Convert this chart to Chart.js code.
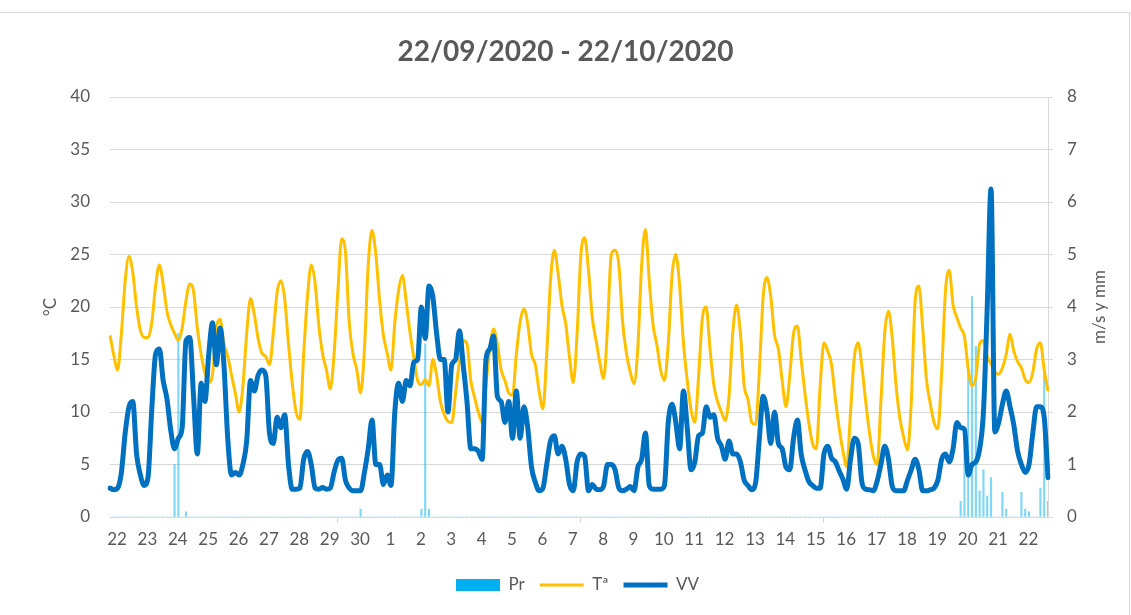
<!DOCTYPE html>
<html>
<head>
<meta charset="utf-8">
<title>22/09/2020 - 22/10/2020</title>
<script src="https://cdn.jsdelivr.net/npm/chart.js@4.4.0/dist/chart.umd.min.js"></script>
<style>
    html, body { margin: 0; padding: 0; background: #ffffff; }
    #wrap { width: 1131px; height: 615px; }
</style>
</head>
<body>
<div id="wrap"><canvas id="grafico" width="1131" height="615"></canvas></div>
<script>
// dias del eje x, del 22/09 al 22/10
var dias = ['22', '23', '24', '25', '26', '27', '28', '29', '30', '1', '2', '3', '4', '5', '6', '7',
    '8', '9', '10', '11', '12', '13', '14', '15', '16', '17', '18', '19', '20', '21', '22'];
// lecturas por dia (cada 3 horas)
var lecturasDia = 8;

// Tª (°C), una fila por dia
var temperatura = [
    17.3, 15.4, 14.0, 17.5, 22.5, 24.8, 23.3, 20.0,
    17.8, 17.1, 17.1, 18.5, 22.0, 24.0, 22.2, 19.6,
    18.3, 17.5, 16.8, 18.0, 20.6, 22.2, 21.5, 18.0,
    15.5, 13.7, 12.8, 13.6, 18.0, 18.8, 16.5, 15.3,
    13.5, 11.8, 10.0, 12.5, 17.5, 20.8, 19.3, 17.0,
    15.6, 15.3, 14.5, 17.5, 21.4, 22.5, 20.8, 16.5,
    12.7, 10.0, 9.3, 15.5, 21.0, 24.0, 22.3, 18.2,
    15.5, 14.0, 12.2, 15.5, 21.5, 26.5, 25.2, 18.5,
    15.5, 14.0, 11.8, 16.0, 24.0, 27.3, 25.0, 20.6,
    17.3, 15.6, 14.0, 18.5, 21.6, 23.0, 20.5, 17.6,
    15.2, 13.0, 12.6, 13.1, 12.5, 15.0, 13.5, 11.0,
    9.8, 9.1, 9.0, 11.8, 14.8, 16.8, 16.5, 13.0,
    11.4, 10.0, 9.0, 12.5, 16.0, 17.9, 16.5, 14.0,
    13.0, 11.8, 11.6, 15.5, 18.6, 19.8, 18.4, 15.5,
    14.5, 12.0, 10.3, 15.5, 22.5, 25.4, 23.2, 20.2,
    18.4, 15.2, 12.8, 17.5, 25.0, 26.6, 23.5, 19.0,
    16.8, 14.7, 13.2, 18.0, 25.0, 25.4, 24.0, 18.5,
    15.6, 13.8, 12.7, 16.2, 24.0, 27.4, 22.5, 18.3,
    16.4, 14.0, 13.0, 16.5, 23.0, 25.0, 22.0, 16.6,
    13.0, 10.2, 9.0, 13.5, 19.0, 20.0, 16.0, 12.6,
    11.0, 10.0, 9.2, 11.5, 17.6, 20.2, 17.5, 12.5,
    11.2, 9.0, 8.8, 14.0, 21.0, 22.8, 21.0, 17.3,
    16.0, 13.0, 10.5, 13.5, 17.5, 18.2, 15.0, 11.8,
    9.0, 7.0, 6.5, 12.5, 16.6, 15.8, 14.5, 11.3,
    8.5, 6.3, 4.8, 10.0, 15.2, 16.6, 14.3, 11.0,
    8.0, 5.8, 5.0, 11.0, 17.5, 19.6, 17.0, 12.5,
    9.4, 7.6, 6.4, 11.0, 20.5, 22.0, 18.0, 13.1,
    10.8, 9.0, 8.4, 13.8, 21.5, 23.5, 20.2, 19.0,
    18.0, 17.2, 14.1, 12.5, 13.3, 16.5, 16.8, 15.3,
    14.6, 13.8, 13.6, 14.2, 15.5, 17.4, 15.8, 14.8,
    14.2, 13.1, 12.8, 13.8, 16.0, 16.6, 14.0, 12.0
];

// VV (m/s)
var viento = [
    0.55, 0.52, 0.55, 0.85, 1.6, 2.1, 2.2, 1.2,
    0.8, 0.6, 0.75, 2.05, 3.1, 3.2, 2.6, 2.25,
    1.65, 1.3, 1.5, 1.7, 3.35, 3.42, 2.3, 1.2,
    2.55, 2.2, 3.1, 3.7, 2.9, 3.6, 2.9, 1.5,
    0.8, 0.85, 0.8, 1.0, 1.45, 2.6, 2.4, 2.7,
    2.8, 2.7, 1.6, 1.4, 1.9, 1.7, 1.95, 1.0,
    0.53, 0.53, 0.55, 1.1, 1.25, 1.0, 0.55, 0.53,
    0.56, 0.53, 0.55, 0.85, 1.08, 1.12, 0.7, 0.55,
    0.5, 0.5, 0.5, 0.85, 1.3, 1.85, 1.0, 1.0,
    0.62, 0.8, 0.6, 2.0, 2.55, 2.2, 2.6, 2.5,
    2.95, 3.0, 4.0, 3.4, 4.4, 4.2, 3.5, 3.0,
    3.0, 2.0, 2.9, 3.0, 3.55, 2.9, 2.2, 1.3,
    1.3, 1.25, 1.1, 3.0, 3.2, 3.45, 2.3, 2.2,
    1.8, 2.2, 1.5, 2.4, 1.5, 2.1, 1.7, 0.95,
    0.66, 0.5, 0.55, 1.0, 1.45, 1.55, 1.2, 1.35,
    1.1, 0.62, 0.5, 1.05, 1.2, 1.15, 0.5, 0.62,
    0.53, 0.52, 0.6, 1.0, 1.0, 0.9, 0.55, 0.5,
    0.53, 0.58, 0.5, 0.95, 1.1, 1.6, 0.6, 0.53,
    0.53, 0.53, 0.6, 1.8, 2.15, 1.8, 1.3, 2.4,
    1.7, 0.9, 1.05, 1.55, 1.6, 2.1, 1.9, 1.95,
    1.5, 1.35, 1.1, 1.45, 1.2, 1.2, 1.05, 0.7,
    0.6, 0.52, 0.65, 1.5, 2.3, 2.0, 1.4, 2.0,
    1.4, 1.3, 0.95, 0.9, 1.5, 1.85, 1.2, 0.9,
    0.68, 0.6, 0.55, 0.55, 1.2, 1.35, 1.12, 1.05,
    0.88, 0.72, 0.53, 1.1, 1.5, 1.4, 0.66, 0.53,
    0.52, 0.5, 0.68, 1.0, 1.35, 1.1, 0.58, 0.5,
    0.5, 0.5, 0.7, 0.9, 1.1, 0.9, 0.5, 0.5,
    0.52, 0.55, 0.7, 1.1, 1.2, 1.05, 1.3, 1.8,
    1.7, 1.67, 0.8, 1.0, 1.05, 1.3, 2.0, 4.0,
    6.25, 1.62, 1.8, 2.15, 2.4, 2.1, 1.75, 1.25,
    1.0, 0.85, 1.0, 1.6, 2.1, 2.1, 1.9, 0.75
];

// Pr (mm)
var precipitacion = [
    0, 0, 0, 0, 0, 0, 0, 0,
    0, 0, 0, 0, 0, 0, 0, 0,
    0, 1.0, 3.5, 0, 0.1, 0, 0, 0,
    0, 0, 0, 0, 0, 0, 0, 0,
    0, 0, 0, 0, 0, 0, 0, 0,
    0, 0, 0, 0, 0, 0, 0, 0,
    0, 0, 0, 0, 0, 0, 0, 0,
    0, 0, 0, 0, 0, 0, 0, 0,
    0, 0, 0.15, 0, 0, 0, 0, 0,
    0, 0, 0, 0, 0, 0, 0, 0,
    0, 0, 0.15, 3.3, 0.15, 0, 0, 0,
    0, 0, 0, 0, 0, 0, 0, 0,
    0, 0, 0, 0, 0, 0, 0, 0,
    0, 0, 0, 0, 0, 0, 0, 0,
    0, 0, 0, 0, 0, 0, 0, 0,
    0, 0, 0, 0, 0, 0, 0, 0,
    0, 0, 0, 0, 0, 0, 0, 0,
    0, 0, 0, 0, 0, 0, 0, 0,
    0, 0, 0, 0, 0, 0, 0, 0,
    0, 0, 0, 0, 0, 0, 0, 0,
    0, 0, 0, 0, 0, 0, 0, 0,
    0, 0, 0, 0, 0, 0, 0, 0,
    0, 0, 0, 0, 0, 0, 0, 0,
    0, 0, 0, 0, 0, 0, 0, 0,
    0, 0, 0, 0, 0, 0, 0, 0,
    0, 0, 0, 0, 0, 0, 0, 0,
    0, 0, 0, 0, 0, 0, 0, 0,
    0, 0, 0, 0, 0, 0, 0, 0,
    0.3, 1.4, 2.75, 4.2, 3.25, 0.5, 0.9, 0.4,
    0.75, 0, 0, 0.47, 0.15, 0, 0, 0,
    0.47, 0.15, 0.1, 0, 0, 0.55, 2.9, 0.3
];

var gris = '#595959';
var rejilla = '#d9d9d9';
var fuente = 'Lato, "Open Sans", sans-serif';

// una etiqueta por lectura: el dia en la primera lectura, vacia en el resto
var etiquetas = [];
dias.forEach(function (d) {
    for (var h = 0; h < lecturasDia; h++) {
        etiquetas.push(h === 0 ? d : '');
    }
});

// marco del grafico, leyenda centrada sobre el area de trazado
// y titulo del eje derecho (girado como en Excel)
var extras = {
    id: 'extras',
    afterLayout: function (chart) {
        if (chart.legend) {
            chart.legend.left += 12;
            chart.legend.right += 12;
        }
    },
    afterDraw: function (chart) {
        var ctx = chart.ctx;
        var area = chart.chartArea;
        ctx.save();
        ctx.strokeStyle = rejilla;
        ctx.lineWidth = 1;
        ctx.beginPath();
        ctx.moveTo(0, 12.5);
        ctx.lineTo(1129.5, 12.5);
        ctx.lineTo(1129.5, 615);
        ctx.stroke();

        ctx.translate(1100, (area.top + area.bottom) / 2);
        ctx.rotate(-Math.PI / 2);
        ctx.fillStyle = gris;
        ctx.font = '17px ' + fuente;
        ctx.textAlign = 'center';
        ctx.textBaseline = 'middle';
        ctx.fillText('m/s y mm', 0, 0);
        ctx.restore();
    }
};

new Chart(document.getElementById('grafico'), {
    type: 'bar',
    data: {
        labels: etiquetas,
        datasets: [{
            type: 'bar',
            label: 'Pr',
            data: precipitacion,
            yAxisID: 'y1',
            backgroundColor: 'rgba(0, 176, 240, 0.5)',
            barThickness: 1.5,
            order: 3
        }, {
            type: 'line',
            label: 'Tª',
            data: temperatura,
            yAxisID: 'y',
            borderColor: '#FFC000',
            backgroundColor: '#FFC000',
            borderWidth: 3,
            pointRadius: 0,
            cubicInterpolationMode: 'monotone',
            order: 2
        }, {
            type: 'line',
            label: 'VV',
            data: viento,
            yAxisID: 'y1',
            borderColor: '#0070C0',
            backgroundColor: '#0070C0',
            borderWidth: 5,
            borderJoinStyle: 'round',
            borderCapStyle: 'round',
            pointRadius: 0,
            cubicInterpolationMode: 'monotone',
            order: 1
        }]
    },
    options: {
        responsive: false,
        animation: false,
        layout: { padding: { top: 1.4, bottom: 11.5, left: 0, right: 0 } },
        scales: {
            x: {
                offset: false,
                grid: {
                    drawOnChartArea: false,
                    drawTicks: true,
                    tickLength: 6,
                    color: function (c) { return c.index % lecturasDia === 0 ? rejilla : 'rgba(0,0,0,0)'; }
                },
                border: { display: true, color: rejilla },
                ticks: {
                    autoSkip: false,
                    maxRotation: 0,
                    minRotation: 0,
                    labelOffset: 7,
                    padding: 6,
                    color: gris,
                    font: { family: fuente, size: 17 },
                    callback: function (v) {
                        var l = this.getLabelForValue(v);
                        return l === '' ? null : l;
                    }
                },
                afterFit: function (s) { s.height = 44.5; }
            },
            y: {
                position: 'left',
                min: 0,
                max: 40,
                ticks: { stepSize: 5, padding: 20, color: gris, font: { family: fuente, size: 17 } },
                grid: { color: rejilla, drawTicks: false },
                border: { display: false },
                title: {
                    display: true,
                    text: '°C',
                    color: gris,
                    font: { family: fuente, size: 17 },
                    padding: { top: 40, bottom: 0 }
                },
                afterFit: function (s) { s.width = 110; }
            },
            y1: {
                position: 'right',
                min: 0,
                max: 8,
                ticks: { stepSize: 1, padding: 14, color: gris, font: { family: fuente, size: 17 } },
                grid: { drawOnChartArea: false, drawTicks: true, tickLength: 5, color: rejilla },
                border: { display: true, color: rejilla },
                afterFit: function (s) { s.width = 83; }
            }
        },
        plugins: {
            title: {
                display: true,
                text: '22/09/2020 - 22/10/2020',
                color: gris,
                font: { family: fuente, size: 28, weight: 'bold' },
                padding: { top: 34, bottom: 28 }
            },
            legend: {
                position: 'bottom',
                labels: {
                    usePointStyle: true,
                    pointStyleWidth: 44,
                    boxHeight: 12,
                    padding: 15,
                    color: gris,
                    font: { family: fuente, size: 17 },
                    sort: function (a, b) { return a.datasetIndex - b.datasetIndex; },
                    generateLabels: function (chart) {
                        var items = Chart.defaults.plugins.legend.labels.generateLabels(chart);
                        items.forEach(function (it) {
                            if (it.datasetIndex === 0) {
                                it.pointStyle = 'rect';
                                it.fillStyle = '#00B0F0';
                                it.lineWidth = 0;
                            } else {
                                it.pointStyle = 'line';
                            }
                        });
                        return items;
                    }
                }
            },
            tooltip: { enabled: false }
        }
    },
    plugins: [extras]
});
</script>
</body>
</html>
